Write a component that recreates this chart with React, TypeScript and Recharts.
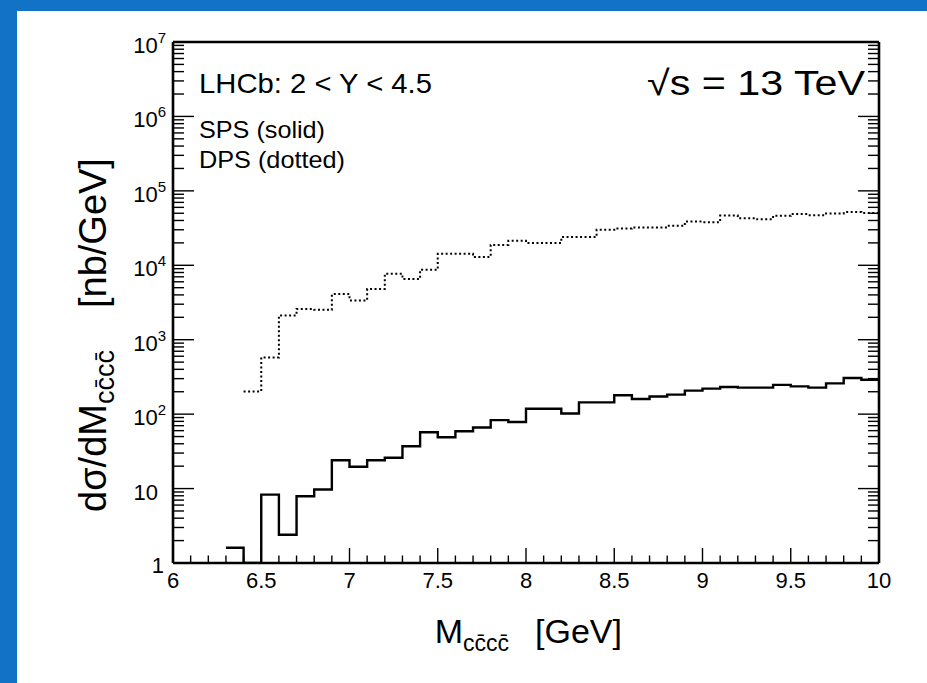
import { ComposedChart, Line, XAxis, YAxis } from "recharts"

// histogram bin edges (GeV), 0.1 wide
const binEdges = [
  6.3, 6.4, 6.5, 6.6, 6.7, 6.8, 6.9, 7.0, 7.1, 7.2, 7.3, 7.4, 7.5, 7.6, 7.7, 7.8, 7.9, 8.0, 8.1,
  8.2, 8.3, 8.4, 8.5, 8.6, 8.7, 8.8, 8.9, 9.0, 9.1, 9.2, 9.3, 9.4, 9.5, 9.6, 9.7, 9.8, 9.9, 10.0,
]

// SPS, bins from 6.3 (6.4-6.5 is empty -> drawn on the axis)
const spsValues = [
  1.6, 1, 8.3, 2.4, 7.9, 9.7, 24, 19.6, 24, 26, 37, 57, 49, 59, 66, 83, 78.5, 118, 118, 102,
  144, 144, 179, 160, 173, 183, 207, 220, 232, 227, 227, 247, 236, 227, 259, 306, 290,
]

// DPS, bins from 6.4
const dpsValues = [
  202, 578, 2120, 2580, 2520, 4100, 3370, 4790, 7690, 6520, 8700, 14260, 14260, 12900, 18800,
  21300, 19900, 19900, 23900, 23900, 30000, 31200, 32200, 32200, 33900, 38700, 38000, 46600,
  43000, 41700, 46200, 48700, 47200, 49600, 51800, 50300,
]

const xMajor = [6, 6.5, 7, 7.5, 8, 8.5, 9, 9.5, 10]
const yDecades = [1, 10, 100, 1000, 10000, 100000, 1000000, 10000000]

const xTicks: number[] = []
for (let i = 0; i <= 40; i++) xTicks.push(Math.round((6 + i * 0.1) * 10) / 10)
const yTicks: number[] = []
yDecades.forEach((d, i) => {
  yTicks.push(d)
  if (i < yDecades.length - 1) for (let m = 2; m <= 9; m++) yTicks.push(d * m)
})

function steps(edges: number[], values: number[]) {
  const pts = values.map((v, i) => ({ x: edges[i], y: v }))
  pts.push({ x: edges[values.length], y: values[values.length - 1] })
  return pts
}

const spsData = steps(binEdges, spsValues)
const dpsData = steps(binEdges.slice(1), dpsValues)

const FONT = "'Liberation Sans', Arial, Helvetica, sans-serif"
const isMajorX = (v: number) => xMajor.some((m) => Math.abs(m - v) < 1e-6)
const isDecade = (v: number) => {
  const l = Math.log10(v)
  return Math.abs(l - Math.round(l)) < 1e-6
}

function BottomTick(props: any) {
  const { x, y, payload } = props
  const major = isMajorX(payload.value)
  return (
    <g>
      <line x1={x} y1={y} x2={x} y2={y - (major ? 15 : 7.5)} stroke="#000" strokeWidth={1.4} />
      {major && (
        <text x={x} y={y + 25} textAnchor="middle" fontSize={22} fontFamily={FONT} fill="#000">
          {String(payload.value)}
        </text>
      )}
    </g>
  )
}

function TopTick(props: any) {
  const { x, y, payload } = props
  const major = isMajorX(payload.value)
  return <line x1={x} y1={y} x2={x} y2={y + (major ? 15 : 7.5)} stroke="#000" strokeWidth={1.4} />
}

function LeftTick(props: any) {
  const { x, y, payload } = props
  const v = payload.value
  const major = isDecade(v)
  const exp = Math.round(Math.log10(v))
  let label = null
  if (major) {
    if (exp === 0) {
      label = (
        <text x={x - 9} y={y + 10} textAnchor="end" fontSize={22} fontFamily={FONT} fill="#000">1</text>
      )
    } else if (exp === 1) {
      label = (
        <text x={x - 15} y={y + 11} textAnchor="end" fontSize={22} fontFamily={FONT} fill="#000">10</text>
      )
    } else {
      label = (
        <text x={x - 7} y={y + 11} textAnchor="end" fontSize={22} fontFamily={FONT} fill="#000">
          10
          <tspan dy={-10} fontSize={15}>{exp}</tspan>
        </text>
      )
    }
  }
  return (
    <g>
      <line x1={x} y1={y} x2={x + (major ? 21 : 11)} y2={y} stroke="#000" strokeWidth={1.4} />
      {label}
    </g>
  )
}

function RightTick(props: any) {
  const { x, y, payload } = props
  const major = isDecade(payload.value)
  return <line x1={x} y1={y} x2={x - (major ? 21 : 11)} y2={y} stroke="#000" strokeWidth={1.4} />
}

const bar = "\u0304"
const sub = `cc${bar}cc${bar}`

export default function App() {
  return (
    <div style={{ position: "fixed", left: 0, top: 0, width: 927, height: 683, background: "#1172c6", overflow: "hidden" }}>
      <div style={{ position: "absolute", left: 17, top: 11, right: 0, bottom: 0, background: "#fff" }} />
      <div style={{ position: "absolute", left: 0, top: 0 }}>
        <ComposedChart width={927} height={683} margin={{ top: 41, right: 47, bottom: 90, left: 93 }}>
          <XAxis
            dataKey="x"
            type="number"
            domain={[6, 10]}
            ticks={xTicks}
            interval={0}
            allowDataOverflow
            height={30}
            tickSize={0}
            tickMargin={0}
            tickLine={false}
            tick={<BottomTick />}
            axisLine={{ stroke: "#000", strokeWidth: 2.6 }}
          />
          <XAxis
            xAxisId="top"
            orientation="top"
            type="number"
            domain={[6, 10]}
            ticks={xTicks}
            interval={0}
            allowDataOverflow
            height={1}
            tickSize={0}
            tickMargin={0}
            tickLine={false}
            tick={<TopTick />}
            axisLine={{ stroke: "#000", strokeWidth: 2.6 }}
          />
          <YAxis
            type="number"
            scale="log"
            domain={[1, 1e7]}
            ticks={yTicks}
            interval={0}
            allowDataOverflow
            width={80}
            tickSize={0}
            tickMargin={0}
            tickLine={false}
            tick={<LeftTick />}
            axisLine={{ stroke: "#000", strokeWidth: 2.6 }}
          />
          <YAxis
            yAxisId="right"
            orientation="right"
            type="number"
            scale="log"
            domain={[1, 1e7]}
            ticks={yTicks}
            interval={0}
            allowDataOverflow
            width={1}
            tickSize={0}
            tickMargin={0}
            tickLine={false}
            tick={<RightTick />}
            axisLine={{ stroke: "#000", strokeWidth: 2.6 }}
          />
          <Line
            data={dpsData}
            dataKey="y"
            type="stepAfter"
            stroke="#000"
            strokeWidth={2}
            strokeDasharray="2 2.5"
            dot={false}
            activeDot={false}
            isAnimationActive={false}
          />
          <Line
            data={spsData}
            dataKey="y"
            type="stepAfter"
            stroke="#000"
            strokeWidth={2.4}
            dot={false}
            activeDot={false}
            isAnimationActive={false}
          />
        </ComposedChart>
      </div>
      <svg width={927} height={683} style={{ position: "absolute", left: 0, top: 0, pointerEvents: "none" }} fontFamily={FONT}>
        <text x={199} y={93} fontSize={28} textLength={233} lengthAdjust="spacingAndGlyphs" fill="#000">
          LHCb: 2 &lt; Y &lt; 4.5
        </text>
        <text x={199} y={138} fontSize={24} textLength={126} lengthAdjust="spacingAndGlyphs" fill="#000">
          SPS (solid)
        </text>
        <text x={199} y={168} fontSize={24} textLength={146} lengthAdjust="spacingAndGlyphs" fill="#000">
          DPS (dotted)
        </text>
        <text x={647} y={95} fontSize={35} textLength={218} lengthAdjust="spacingAndGlyphs" fill="#000">
          √s = 13 TeV
        </text>
        <text x={622} y={643} fontSize={34} textAnchor="end" fill="#000">
          M
          <tspan dy={8} fontSize={23}>{sub}</tspan>
          <tspan dy={-8} dx={26}>[GeV]</tspan>
        </text>
        <text transform="translate(106,512) rotate(-90)" fontSize={38} fill="#000">
          dσ/dM
          <tspan dy={8} fontSize={27}>{sub}</tspan>
          <tspan dy={-8} dx={42}>[nb/GeV]</tspan>
        </text>
      </svg>
    </div>
  )
}
